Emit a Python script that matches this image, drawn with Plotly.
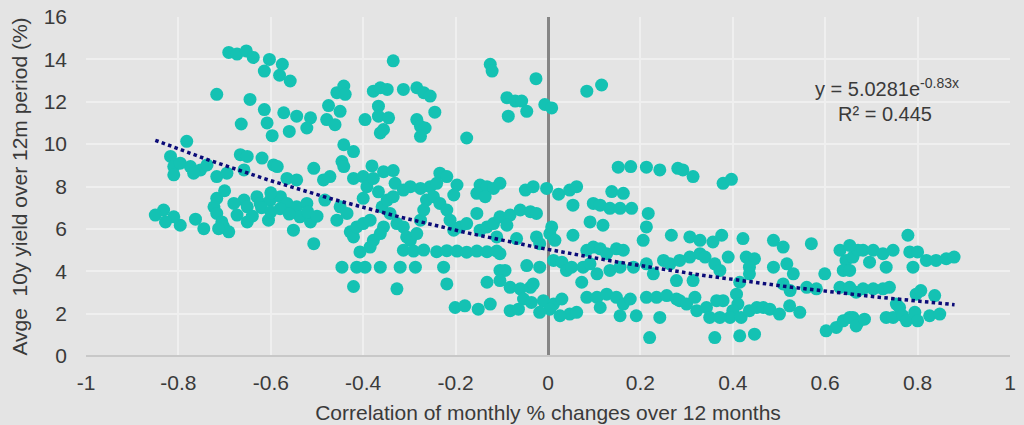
import numpy as np
import plotly.graph_objects as go

# ---- data: (correlation, avg 10y yield) ----
pts_high_left = [(-0.691, 14.33), (-0.673, 14.25), (-0.653, 14.40), (-0.638, 14.09), (-0.603, 14.00),
                 (-0.575, 13.77), (-0.614, 13.45), (-0.581, 13.25), (-0.558, 12.98), (-0.717, 12.35),
                 (-0.645, 12.11), (-0.614, 11.63), (-0.572, 11.48), (-0.544, 11.32), (-0.514, 11.24),
                 (-0.664, 10.95), (-0.608, 11.00), (-0.560, 10.60), (-0.522, 10.76), (-0.597, 10.40),
                 (-0.782, 10.13)]
pts_mid_left = [(-0.817, 9.42), (-0.810, 8.94), (-0.796, 9.10), (-0.774, 8.94), (-0.752, 8.78),
                (-0.738, 9.02), (-0.717, 8.47), (-0.695, 8.63), (-0.666, 9.50), (-0.651, 9.42),
                (-0.658, 8.78), (-0.619, 9.34), (-0.594, 9.02), (-0.586, 8.94), (-0.565, 8.38),
                (-0.544, 8.31), (-0.507, 8.86), (-0.810, 8.55), (-0.767, 8.63)]
pts_low_left = [(-0.717, 7.44), (-0.723, 7.04), (-0.717, 6.73), (-0.706, 6.33), (-0.702, 6.09),
                (-0.691, 5.86), (-0.713, 6.01), (-0.745, 6.01), (-0.763, 6.46), (-0.796, 6.17),
                (-0.810, 6.57), (-0.832, 6.89), (-0.850, 6.65), (-0.828, 6.33), (-0.658, 7.36),
                (-0.651, 7.04), (-0.630, 7.52), (-0.623, 7.20), (-0.601, 7.36), (-0.579, 7.52),
                (-0.565, 7.20), (-0.544, 7.04), (-0.522, 7.20), (-0.673, 6.65), (-0.651, 6.33),
                (-0.605, 6.41), (-0.551, 5.94), (-0.537, 6.57), (-0.514, 6.33), (-0.507, 5.30),
                (-0.620, 7.00), (-0.600, 6.80), (-0.580, 6.95), (-0.640, 6.60), (-0.560, 6.70),
                (-0.520, 6.80), (-0.500, 6.60), (-0.680, 7.20), (-0.700, 7.80), (-0.600, 7.70)]
pts_high_mid = [(-0.335, 13.93), (-0.125, 13.77), (-0.121, 13.45), (-0.457, 12.43), (-0.442, 12.74),
                (-0.439, 12.35), (-0.378, 12.50), (-0.363, 12.66), (-0.348, 12.58), (-0.313, 12.58),
                (-0.284, 12.66), (-0.269, 12.43), (-0.255, 12.27), (-0.475, 11.82), (-0.450, 11.55),
                (-0.479, 11.16), (-0.461, 10.92), (-0.396, 11.16), (-0.367, 11.79), (-0.367, 11.32),
                (-0.345, 11.24), (-0.363, 10.53), (-0.356, 10.69), (-0.284, 11.16), (-0.276, 10.84),
                (-0.266, 10.76), (-0.276, 10.37), (-0.245, 11.51), (-0.176, 10.29)]
pts_mid_mid = [(-0.442, 9.97), (-0.421, 9.65), (-0.446, 9.18), (-0.442, 8.94), (-0.472, 8.47),
               (-0.486, 8.31), (-0.483, 7.36), (-0.381, 8.97), (-0.356, 8.70), (-0.335, 8.75),
               (-0.331, 8.15), (-0.421, 8.38), (-0.400, 8.47), (-0.392, 7.99), (-0.378, 8.38),
               (-0.367, 7.75), (-0.400, 7.44), (-0.234, 8.63), (-0.219, 8.47), (-0.255, 7.99),
               (-0.276, 7.91), (-0.298, 7.99), (-0.313, 7.83), (-0.241, 8.15), (-0.197, 8.07),
               (-0.204, 7.60), (-0.147, 8.07), (-0.132, 7.99), (-0.118, 7.91), (-0.154, 7.68),
               (-0.136, 7.52)]
pts_band_mid = [(-0.450, 7.04), (-0.457, 6.41), (-0.435, 6.73), (-0.428, 5.86), (-0.421, 5.62),
                (-0.414, 6.09), (-0.400, 6.25), (-0.385, 6.41), (-0.378, 5.46), (-0.385, 5.14),
                (-0.407, 4.91), (-0.359, 7.04), (-0.348, 7.36), (-0.335, 7.52), (-0.342, 6.73),
                (-0.356, 6.09), (-0.363, 5.78), (-0.327, 6.25), (-0.313, 6.09), (-0.306, 5.62),
                (-0.298, 5.46), (-0.284, 5.78), (-0.276, 6.41), (-0.263, 7.36), (-0.269, 6.89),
                (-0.248, 7.52), (-0.234, 7.20), (-0.219, 6.89), (-0.212, 6.41), (-0.204, 5.94),
                (-0.190, 6.09), (-0.176, 6.25), (-0.154, 6.73), (-0.147, 5.94), (-0.132, 6.09),
                (-0.118, 6.25), (-0.111, 5.62)]
pts_low_mid = [(-0.313, 4.99), (-0.291, 4.95), (-0.269, 5.00), (-0.241, 4.92), (-0.219, 4.97),
               (-0.197, 4.95), (-0.176, 4.90), (-0.154, 4.95), (-0.132, 4.92), (-0.111, 4.95),
               (-0.446, 4.19), (-0.414, 4.19), (-0.396, 4.19), (-0.363, 4.19), (-0.320, 4.19),
               (-0.287, 4.19), (-0.226, 4.19), (-0.421, 3.28), (-0.327, 3.17), (-0.219, 3.40),
               (-0.132, 3.48), (-0.201, 2.29), (-0.180, 2.37), (-0.151, 2.21), (-0.125, 2.45),
               (-0.104, 4.04)]
pts_center_high = [(-0.026, 13.09), (-0.089, 12.19), (-0.071, 12.03), (-0.057, 12.03), (-0.046, 11.55),
                   (-0.086, 11.32), (-0.007, 11.87), (0.008, 11.71), (0.084, 12.50), (0.116, 12.79),
                   (0.152, 8.91), (0.179, 8.94), (0.213, 8.91), (0.242, 8.78), (0.281, 8.86)]
pts_center_mid = [(-0.104, 8.15), (-0.049, 7.83), (-0.032, 7.99), (-0.003, 7.91), (0.023, 7.64),
                  (0.047, 7.83), (0.062, 7.99), (0.054, 7.12), (0.098, 7.20), (0.113, 7.12),
                  (0.134, 6.97), (0.138, 7.76), (0.163, 7.68), (0.156, 6.97), (0.181, 6.97),
                  (0.091, 6.33), (0.119, 6.17), (0.217, 6.73), (0.213, 6.09), (0.206, 5.46),
                  (0.267, 5.70), (-0.104, 6.57), (-0.082, 6.65), (-0.060, 6.89), (-0.038, 6.81),
                  (-0.025, 6.73), (-0.089, 6.17), (-0.068, 5.54), (-0.025, 5.62), (-0.018, 5.30),
                  (0.004, 5.78), (0.008, 6.09), (0.015, 5.46), (0.054, 5.70)]
pts_center_trend = [(-0.104, 4.83), (-0.093, 4.04), (-0.046, 4.27), (-0.018, 4.19), (0.012, 4.51),
                    (0.030, 4.43), (0.040, 4.04), (0.051, 4.19), (0.084, 4.99), (0.098, 5.14),
                    (0.113, 5.06), (0.127, 4.83), (0.148, 5.06), (0.163, 4.99), (0.076, 4.19),
                    (0.091, 4.35), (0.106, 3.88), (0.134, 4.04), (0.156, 4.19), (0.185, 4.19),
                    (0.213, 4.35), (0.228, 3.88), (0.250, 4.51), (0.264, 4.35), (0.278, 3.56)]
pts_center_low = [(-0.104, 3.56), (-0.082, 3.24), (-0.060, 3.17), (-0.038, 3.24), (-0.032, 3.40),
                  (-0.053, 2.69), (-0.036, 2.53), (-0.010, 2.61), (0.012, 2.45), (0.030, 2.69),
                  (0.047, 1.98), (0.062, 2.06), (0.026, 1.90), (0.004, 2.21), (-0.018, 2.06),
                  (-0.082, 2.14), (-0.064, 2.21), (0.073, 3.48), (0.084, 2.77), (0.106, 2.77),
                  (0.113, 2.29), (0.127, 2.92), (0.148, 2.77), (0.163, 2.45), (0.178, 2.69),
                  (0.156, 1.90), (0.191, 1.90), (0.213, 2.77), (0.235, 2.77), (0.257, 2.85),
                  (0.278, 2.69), (0.242, 1.82), (0.220, 0.87)]
pts_right_a = [(0.292, 8.78), (0.314, 8.47), (0.379, 8.15), (0.397, 8.34), (0.307, 5.62),
               (0.329, 5.46), (0.357, 5.38), (0.376, 5.70), (0.390, 4.67), (0.422, 5.54),
               (0.488, 5.46), (0.509, 5.14), (0.570, 5.30), (0.285, 4.51), (0.307, 4.67),
               (0.329, 4.83), (0.340, 4.67), (0.314, 3.56), (0.361, 4.35), (0.372, 4.04),
               (0.429, 4.67), (0.447, 4.59), (0.436, 4.19), (0.436, 3.88), (0.415, 3.48),
               (0.408, 2.92), (0.411, 2.45), (0.400, 2.14), (0.379, 2.61), (0.394, 1.82),
               (0.418, 1.82), (0.488, 4.19), (0.517, 4.35), (0.531, 3.88), (0.509, 3.40),
               (0.524, 3.09), (0.560, 3.24), (0.581, 3.17), (0.599, 3.88)]
pts_right_b = [(0.285, 2.61), (0.300, 2.45), (0.318, 2.77), (0.322, 2.14), (0.343, 2.29),
               (0.350, 1.82), (0.365, 2.61), (0.372, 1.82), (0.436, 2.14), (0.452, 2.29),
               (0.466, 2.29), (0.480, 2.21), (0.501, 1.98), (0.523, 2.37), (0.545, 2.06),
               (0.361, 0.87), (0.415, 0.95), (0.447, 1.03), (0.632, 4.99), (0.645, 4.51),
               (0.639, 4.04), (0.660, 4.67), (0.671, 4.99), (0.632, 3.24), (0.653, 3.17),
               (0.667, 3.01), (0.602, 1.19), (0.624, 1.35), (0.639, 1.66), (0.660, 1.82),
               (0.671, 1.58)]
pts_far_right = [(0.779, 5.70), (0.653, 5.22), (0.682, 4.99), (0.704, 4.99), (0.725, 4.83),
                 (0.747, 4.99), (0.783, 4.91), (0.800, 4.91), (0.819, 4.51), (0.840, 4.51),
                 (0.862, 4.59), (0.879, 4.67), (0.696, 4.43), (0.732, 4.19), (0.790, 4.19),
                 (0.653, 4.04), (0.653, 3.24), (0.682, 3.17), (0.704, 3.17), (0.725, 3.17),
                 (0.739, 3.24), (0.754, 2.45), (0.761, 2.29), (0.797, 2.92), (0.807, 3.09),
                 (0.837, 2.85), (0.653, 1.82), (0.667, 1.42), (0.685, 1.74), (0.732, 1.82),
                 (0.747, 1.82), (0.768, 1.90), (0.776, 1.66), (0.794, 2.06), (0.800, 1.66),
                 (0.826, 1.90), (0.848, 1.98)]

# exponential trendline as printed on the chart
trend_a = 5.0281
trend_b = -0.83
trend_x_range = [-0.85, 0.88]
r_squared = 0.445

x_tickvals = [-1, -0.8, -0.6, -0.4, -0.2, 0, 0.2, 0.4, 0.6, 0.8, 1]
x_ticktext = ["-1", "-0.8", "-0.6", "-0.4", "-0.2", "0", "0.2", "0.4", "0.6", "0.8", "1"]
y_tickvals = [0, 2, 4, 6, 8, 10, 12, 14, 16]

all_pts = (pts_high_left + pts_mid_left + pts_low_left + pts_high_mid + pts_mid_mid + pts_band_mid
           + pts_low_mid + pts_center_high + pts_center_mid + pts_center_trend + pts_center_low
           + pts_right_a + pts_right_b + pts_far_right)
xs = [p[0] for p in all_pts]
ys = [p[1] for p in all_pts]

tx = np.linspace(trend_x_range[0], trend_x_range[1], 200)
ty = trend_a * np.exp(trend_b * tx)

FONT = "Liberation Sans, Arial, sans-serif"
TXT = "#3a3a3a"
BG = "#e4e4e4"
GRID = "#efefef"

fig = go.Figure()
fig.add_trace(go.Scatter(x=xs, y=ys, mode="markers",
                         marker=dict(size=13, color="#14c2b3", line=dict(width=0)),
                         showlegend=False, hoverinfo="x+y"))
fig.add_trace(go.Scatter(x=tx, y=ty, mode="lines",
                         line=dict(color="#0b0b78", width=3.5, dash="3.5px,3.3px"),
                         showlegend=False, hoverinfo="skip"))

fig.add_annotation(x=0.733, y=12.02, xref="x", yref="y", yanchor="bottom",
                   text="y = %.4fe<sup>%.2fx</sup>" % (trend_a, trend_b),
                   showarrow=False, font=dict(family=FONT, size=20, color=TXT), borderpad=0)
fig.add_annotation(x=0.73, y=11.98, xref="x", yref="y", yanchor="top",
                   text="R² = %.3f" % r_squared,
                   showarrow=False, font=dict(family=FONT, size=20, color=TXT), borderpad=0)

fig.update_layout(
    width=1024, height=425,
    margin=dict(l=86, r=14, t=17, b=69),
    paper_bgcolor=BG, plot_bgcolor=BG,
    font=dict(family=FONT, size=21, color=TXT),
    xaxis=dict(range=[-1, 1], tickvals=x_tickvals, ticktext=x_ticktext,
               showgrid=True, gridcolor=GRID, gridwidth=1.5,
               zeroline=True, zerolinecolor="#858585", zerolinewidth=2.5,
               showline=False, ticks="", ticklabelstandoff=12, automargin=False,
               title=dict(text="Correlation of monthly % changes over 12 months",
                          font=dict(family=FONT, size=21, color=TXT), standoff=12),
               tickfont=dict(family=FONT, size=21, color=TXT)),
    yaxis=dict(range=[0, 16], tickvals=y_tickvals,
               showgrid=True, gridcolor=GRID, gridwidth=1.5,
               zeroline=True, zerolinecolor="#c8c8c8", zerolinewidth=2,
               showline=False, ticks="", ticklabelstandoff=18, automargin=False,
               title=dict(text="Avge  10y yield over 12m period (%)",
                          font=dict(family=FONT, size=21, color=TXT), standoff=10),
               tickfont=dict(family=FONT, size=21, color=TXT)),
)

fig.write_html("out.html", config={"displayModeBar": False},
               post_script="document.body.style.margin='0';"
                           "document.body.style.overflow='hidden';"
                           "document.body.style.background='%s';" % BG)
